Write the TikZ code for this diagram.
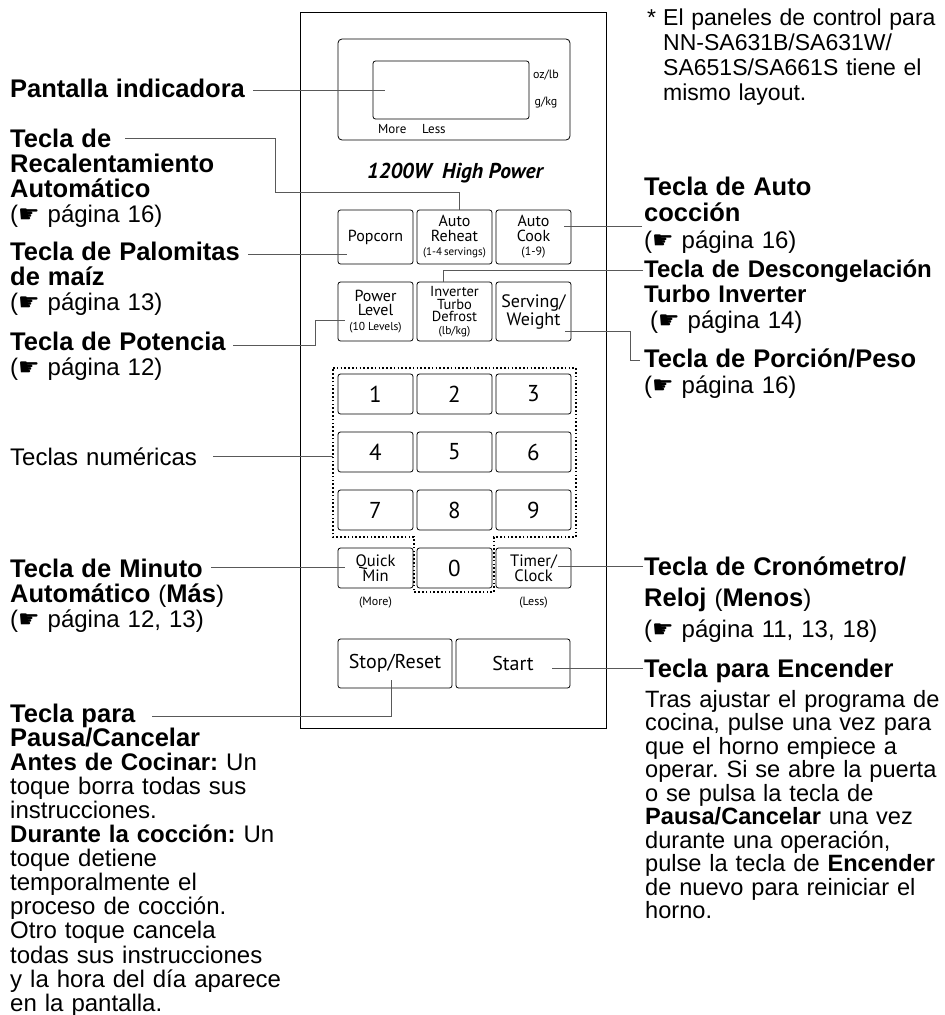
\documentclass[tikz,border=0pt]{standalone}
\usepackage{fontspec}
\setmainfont{Liberation Sans}
\newfontfamily\keyfont{PT Sans}
\newfontfamily\handfont{DejaVu Sans}
\newcommand{\hand}{{\handfont\symbol{"261B}}}
\newcommand{\ttl}[1]{{\fontsize{25.5}{25}\selectfont\bfseries #1}}
\frenchspacing
\usetikzlibrary{positioning, calc}
\tikzset{ovenpanel/.style={
    keybox/.style={rectangle, draw=black, line width=0.8pt, rounded corners=2.5pt, inner sep=0pt, align=center, minimum width=75pt},
    fnkey/.style={keybox, minimum height=54pt, font=\keyfont\fontsize{16}{14.5}\selectfont},
    numkey/.style={keybox, minimum height=40pt, font=\keyfont\fontsize{23}{23}\selectfont},
    bigkey/.style={keybox, minimum width=114pt, minimum height=49pt, font=\keyfont\fontsize{20}{20}\selectfont},
    small/.style={inner sep=0pt, font=\keyfont\fontsize{12}{12}\selectfont},
    callout/.style={draw=black!65, line width=0.8pt},
    padline/.style={line width=1.6pt, dash pattern=on 1.6pt off 2.2pt},
    note/.style={anchor=base west, inner sep=0pt, text width=330pt, align=left, font=\fontsize{24}{25}\selectfont},
}}

\begin{document}
\begin{tikzpicture}[ovenpanel, x=1pt, y=-1pt]
    \path[use as bounding box] (0,0) rectangle (945,1015);
    \node[draw, line width=0.9pt, minimum width=306pt, minimum height=716pt, inner sep=0pt] (panel) at (453,370) {};
    \node[draw, line width=0.8pt, rounded corners=4pt, minimum width=232pt, minimum height=101pt] (display) at (454,89.5) {};
    \node[draw, line width=0.8pt, rounded corners=2.5pt, minimum width=156pt, minimum height=58pt] (lcd) at (451,90) {};
    \node[small] (ozlb) at (546,75) {oz/lb};
    \node[small] (gkg) at (546,102) {g/kg};
    \node[small, anchor=base west, font=\keyfont\fontsize{13}{13}\selectfont] (moretxt) at (378,133) {More};
    \node[small, anchor=base west, font=\keyfont\fontsize{13}{13}\selectfont] (lesstxt) at (422,133) {Less};
    \node[inner sep=0pt, font=\keyfont\bfseries\itshape\fontsize{21.5}{21.5}\selectfont] (rating) at (455,173) {1200W\hspace{5pt} High Power};

    \node[fnkey] (popcorn) at (375.5,237) {Popcorn};
    \node[fnkey] (reheat) at (454.5,237) {Auto\\Reheat\\{\fontsize{11}{11}\selectfont(1-4\,servings)}};
    \node[fnkey] (autocook) at (533.5,237) {Auto\\Cook\\{\fontsize{12}{12}\selectfont(1-9)}};
    \node[fnkey, minimum height=59pt] (power) at (375.5,311.5) {Power\\Level\\{\fontsize{11.5}{11.5}\selectfont(10 Levels)}};
    \node[fnkey, minimum height=59pt, font=\keyfont\fontsize{14.5}{12.5}\selectfont] (defrost) at (454.5,311.5) {Inverter\\Turbo\\Defrost\\{\fontsize{11.5}{11.5}\selectfont(lb/kg)}};
    \node[fnkey, minimum height=59pt, font=\keyfont\fontsize{18}{18}\selectfont] (serving) at (533.5,311.5) {Serving/\\Weight};

    \draw[padline] (333,368) -| (576,537) -| (494,592) -| (414,537) -| (333,368) -- cycle;
    \foreach \n [count=\i from 0] in {1,...,9} {
        \pgfmathtruncatemacro\col{mod(\i,3)}
        \pgfmathtruncatemacro\row{div(\i,3)}
        \node[numkey] (k\n) at ({375.5+79*\col}, {394+58*\row}) {\n};
    }
    \node[numkey, font=\keyfont\fontsize{16.5}{15}\selectfont] (quickmin) at (375.5,568) {Quick\\Min};
    \node[numkey] (k0) at (454.5,568) {0};
    \node[numkey, font=\keyfont\fontsize{16.5}{15}\selectfont] (timer) at (533.5,568) {Timer/\\Clock};
    \node[small] (more) at (375.5,603) {(More)};
    \node[small] (less) at (533.5,603) {(Less)};
    \node[bigkey] (stopreset) at (395,663.5) {Stop/Reset};
    \node[bigkey] (start) at (513,663.5) {Start};

    \node[note] (pantalla) at (10,97) {\ttl{Pantalla indicadora}};
    \node[note] (recalent) at (10,147) {\ttl{Tecla de}\\\ttl{Recalentamiento}\\\ttl{Automático}\\(\hand{} página 16)};
    \node[note] (palomitas) at (10,260) {\ttl{Tecla de Palomitas}\\\ttl{de maíz}\\(\hand{} página 13)};
    \node[note] (potencia) at (10,350) {\ttl{Tecla de Potencia}\\(\hand{} página 12)};
    \node[note] (numericas) at (10,465) {Teclas numéricas};
    \node[note] (minuto) at (10,577) {\ttl{Tecla de Minuto}\\\ttl{Automático} (\ttl{Más})\\(\hand{} página 12, 13)};
    \node[note, font=\fontsize{24}{24.1}\selectfont] (pausa) at (10,722) {\ttl{Tecla para}\\\ttl{Pausa/Cancelar}\\\textbf{Antes de Cocinar:} Un\\toque borra todas sus\\instrucciones.\\\textbf{Durante la cocción:} Un\\toque detiene\\temporalmente el\\proceso de cocción.\\Otro toque cancela\\todas sus instrucciones\\y la hora del día aparece\\en la pantalla.};

    \node[anchor=base west, inner sep=0pt, font=\fontsize{23}{25}\selectfont] (asterisco) at (647,25) {*};
    \node[note, font=\fontsize{23}{25}\selectfont] (aviso) at (663,25) {El paneles de control para\\NN-SA631B/SA631W/\\SA651S/SA661S tiene el\\mismo layout.};
    \node[note, font=\fontsize{24}{26.5}\selectfont] (autococ) at (644,195) {\ttl{Tecla de Auto}\\\ttl{cocción}\\(\hand{} página 16)};
    \node[note, font=\fontsize{24}{25.5}\selectfont] (descong) at (644,277) {\textbf{Tecla de Descongelación}\\\textbf{Turbo Inverter}\\\hspace*{6pt}(\hand{} página 14)};
    \node[note, font=\fontsize{24}{26}\selectfont] (porcion) at (644,367) {\ttl{Tecla de Porción/Peso}\\(\hand{} página 16)};
    \node[note, font=\fontsize{24}{31}\selectfont] (crono) at (644,575) {\ttl{Tecla de Cronómetro/}\\\ttl{Reloj} (\ttl{Menos})\\(\hand{} página 11, 13, 18)};
    \node[note] (encender) at (644,677) {\ttl{Tecla para Encender}};
    \node[note, font=\fontsize{23.6}{23.5}\selectfont] (encbody) at (645,707) {Tras ajustar el programa de\\cocina, pulse una vez para\\que el horno empiece a\\operar. Si se abre la puerta\\o se pulsa la tecla de\\\textbf{Pausa/Cancelar} una vez\\durante una operación,\\pulse la tecla de \textbf{Encender}\\de nuevo para reiniciar el\\horno.};

    \coordinate (pantend) at (253,90);
    \coordinate (recalend) at (125,138);
    \coordinate (palomend) at (248,254);
    \coordinate (potend) at (233,345);
    \coordinate (numend) at (213,456);
    \coordinate (minend) at (211,567);
    \coordinate (pausend) at (152,716);
    \coordinate (coccend) at (642,226);
    \coordinate (descend) at (643,270);
    \coordinate (porcend) at (640,360);
    \coordinate (cronend) at (643,566);
    \coordinate (encend) at (643,668);

    \draw[callout] (pantend) -- ([xshift=12pt]pantend -| lcd.west);
    \draw[callout] (recalend) -| ($(recalend)+(150,54)$) -| ([xshift=4.5pt]reheat.north);
    \draw[callout] (palomend) -- ([xshift=9pt]palomend -| popcorn.west);
    \draw[callout] (potend) -| ($(power.west)+(-22,8.5)$) -- ($(power.west)+(7,8.5)$);
    \draw[callout] (numend) -- ([xshift=-5pt]numend -| k4.west);
    \draw[callout] (minend) -- ([xshift=7pt]minend -| quickmin.west);
    \draw[callout] (pausend) -| ([xshift=-4pt, yshift=8pt]stopreset.south);
    \draw[callout] (coccend) -- ([xshift=-7pt]coccend -| autocook.east);
    \draw[callout] (descend) -| ([xshift=-11.5pt]defrost.north);
    \draw[callout] ($(serving.east)+(-6,19.5)$) -| ($(porcend)+(-10,0)$) -- (porcend);
    \draw[callout] (cronend) -- ([xshift=-13pt]cronend -| timer.east);
    \draw[callout] (encend) -- ([xshift=-18pt]encend -| start.east);
\end{tikzpicture}
\end{document}
